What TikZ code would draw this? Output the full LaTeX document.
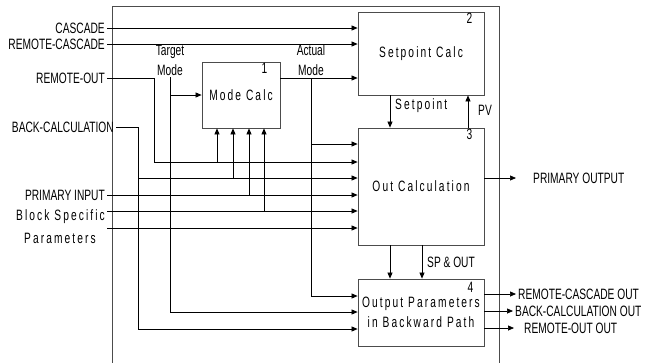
\documentclass[tikz,border=0pt]{standalone}
\usepackage{fontspec}
\setmainfont{Liberation Sans}[FakeStretch=0.68]
\newfontfamily\spfont{Liberation Sans}[FakeStretch=0.68,LetterSpace=14]
\usetikzlibrary{arrows.meta,positioning,calc}
\newcommand{\lblsize}{\fontsize{15}{20}\selectfont}
\newcommand{\blkfont}{\lblsize\spfont}

\begin{document}
\begin{tikzpicture}[
  x=1pt,y=-1pt,
  font=\lblsize,
  blk/.style={draw=black!70,line width=0.8pt,inner sep=2pt,align=center,
    font=\blkfont},
  lbl/.style={inner sep=2pt,align=center},
  num/.style={anchor=north east,inner sep=1pt},
  link/.style={-{Triangle[length=6pt,width=5pt]},line width=0.7pt}
]
  \useasboundingbox (0,0) rectangle (652,362);
  \draw[black!70,line width=0.8pt] (112,6) rectangle (499,366);

  \node[blk,minimum width=126pt,minimum height=83pt] (sp) at (421,53.5) {Setpoint Calc};
  \node[blk,minimum width=78pt,minimum height=66pt] (mc) at (241,95) {Mode Calc};
  \node[blk,minimum width=126pt,minimum height=117pt] (oc) at (421,186.5) {Out Calculation};
  \node[blk,minimum width=126pt,minimum height=67pt] (op) at (421,312.5)
    {Output Parameters\\in Backward Path};
  \node[num] (n2) at ([xshift=-11pt]sp.north east) {2};
  \node[num] (n1) at ([xshift=-12pt]mc.north east) {1};
  \node[num] (n3) at ([xshift=-11pt]oc.north east) {3};
  \node[num] (n4) at ([xshift=-10pt,yshift=-2pt]op.north east) {4};

  \node[lbl,anchor=east] (cas) at (107,28) {CASCADE};
  \node[lbl,anchor=east] (rcas) at (107,44) {REMOTE-CASCADE};
  \node[lbl,anchor=east] (rout) at (107,78) {REMOTE-OUT};
  \node[lbl,anchor=east] (bcal) at (116,127) {BACK-CALCULATION};
  \node[lbl,anchor=east] (pin) at (107,195) {PRIMARY INPUT};
  \node[lbl,anchor=east,font=\blkfont] (bsp) at (107,217) {Block Specific};
  \node[lbl,font=\blkfont] (par) at (60,238) {Parameters};
  \node[lbl] (tm) at (170,60) {Target\\Mode};
  \node[lbl] (aml) at (311,60) {Actual\\Mode};

  \coordinate (am) at (311,78);
  \coordinate (ro) at (154,162);
  \coordinate (bc) at (138,127);
  \coordinate (bs1) at (107,211);
  \coordinate (bs2) at (107,228);

  \draw[link] (cas.east) -- (cas.east -| sp.west);
  \draw[link] (rcas.east) -- (rcas.east -| sp.west);
  \draw[link] (mc.east |- am) -- (am -| sp.west);
  \draw[link] (am) |- (op.west |- 0,296);
  \draw[link] (am |- 0,144) -- (oc.west |- 0,144);
  \draw[link] (tm.south) |- (op.west |- 0,312);
  \draw[link] (tm.south |- mc.west) -- (mc.west);
  \draw[link] (rout.east) -| (ro) -- (ro -| oc.west);
  \draw (bcal.east) -- (bc);
  \draw[link] (bc) |- (op.west |- 0,329);
  \draw[link] (bc |- 0,178) -- (oc.west |- 0,178);
  \draw[link] (pin.east) -- (pin.east -| oc.west);
  \draw[link] (bs1) -- (bs1 -| oc.west);
  \draw[link] (bs2) -- (bs2 -| oc.west);
  \foreach \x/\y in {217/162,233/178,249/195,264/211}
    \draw[link] (\x,\y) -- (\x,\y |- mc.south);

  \draw[link] (sp.south -| 390,0) -- (oc.north -| 390,0);
  \node[lbl,anchor=west,font=\blkfont] (spl) at (393,106) {Setpoint};
  \draw[link] (oc.north -| 468,0) -- (sp.south -| 468,0);
  \node[lbl,anchor=west] (pvl) at (476,110) {PV};
  \draw[link] (oc.south -| 390,0) -- (op.north -| 390,0);
  \draw[link] (oc.south -| 422,0) -- (op.north -| 422,0);
  \node[lbl,anchor=west] (spo) at (425,262) {SP \& OUT};

  \node[lbl,anchor=west] (pout) at (531,178) {PRIMARY OUTPUT};
  \draw[link,shorten >=15pt] (oc.east |- pout) -- (pout.west);
  \node[lbl,anchor=west] (rco) at (516,294) {REMOTE-CASCADE OUT};
  \draw[link] (op.east |- rco) -- (rco.west);
  \node[lbl,anchor=west] (bco) at (513,311) {BACK-CALCULATION OUT};
  \draw[link] (op.east |- bco) -- (bco.west);
  \node[lbl,anchor=west] (roo) at (522,328) {REMOTE-OUT OUT};
  \draw[link,shorten >=8pt] (op.east |- roo) -- (roo.west);
\end{tikzpicture}
\end{document}
